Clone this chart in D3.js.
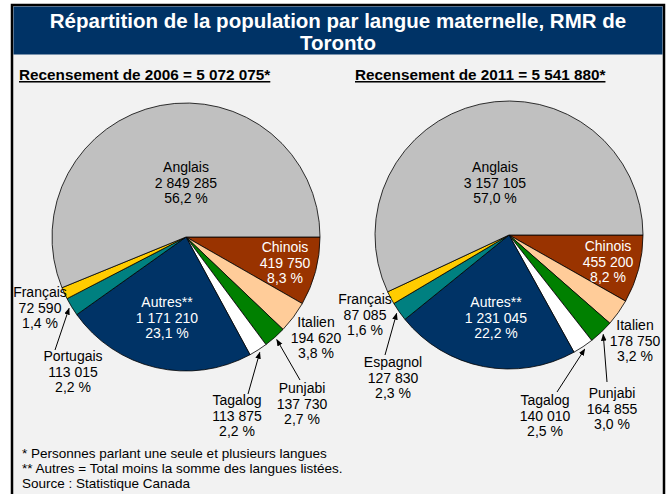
<!DOCTYPE html>
<html>
<head>
<meta charset="utf-8">
<script src="https://cdn.jsdelivr.net/npm/d3@7"></script>
<style>
  body { margin: 0; background: #fff; }
  text { font-family: "Liberation Sans", Arial, sans-serif; }
  .narrow { font-family: "Liberation Sans Narrow", "Arial Narrow", "Liberation Sans", sans-serif; font-weight: bold; }
</style>
</head>
<body>
<script>
// data
var languages2006 = ['Chinois', 'Italien', 'Punjabi', 'Tagalog', 'Autres**', 'Portugais', 'Français', 'Anglais'];
var counts2006 = [419750, 194620, 137730, 113875, 1171210, 113015, 72590, 2849285];
var pct2006 = [8.3, 3.8, 2.7, 2.2, 23.1, 2.2, 1.4, 56.2];
var total2006 = 5072075;

var languages2011 = ['Chinois', 'Italien', 'Punjabi', 'Tagalog', 'Autres**', 'Espagnol', 'Français', 'Anglais'];
var counts2011 = [455200, 178750, 164855, 140010, 1231045, 127830, 87085, 3157105];
var pct2011 = [8.2, 3.2, 3.0, 2.5, 22.2, 2.3, 1.6, 57.0];
var total2011 = 5541880;

var colour = d3.scaleOrdinal()
    .domain(['Chinois', 'Italien', 'Punjabi', 'Tagalog', 'Autres**', 'Portugais', 'Espagnol', 'Français', 'Anglais'])
    .range(['#993300', '#FFCC99', '#008000', '#FFFFFF', '#003366', '#008080', '#008080', '#FFCC00', '#C0C0C0'])
var whiteText = ['Chinois', 'Autres**']

var fr = d3.formatLocale({decimal: ',', thousands: ' ', grouping: [3], currency: ['', ' $']})
var fmtN = fr.format(',d'), fmtP = fr.format('.1f')

var width = 669, height = 494
var radius = 134

// label placement: [dx, dy] of first baseline from pie centre; arrow = start offset from label
var layout2006 = {
    'Chinois': {pos: [99, 15]}, 'Italien': {pos: [130, 90]}, 'Punjabi': {pos: [116, 156], arrow: [-2, -13]},
    'Tagalog': {pos: [51, 168], arrow: [11, -11]}, 'Autres**': {pos: [-19, 70]},
    'Portugais': {pos: [-113, 124], arrow: [-18, -11]}, 'Français': {pos: [-146, 60]}, 'Anglais': {pos: [0, -65]}
}
var layout2011 = {
    'Chinois': {pos: [99, 16]}, 'Italien': {pos: [126, 95]}, 'Punjabi': {pos: [103, 163], arrow: [-5, -16]},
    'Tagalog': {pos: [36, 170], arrow: [12, -13]}, 'Autres**': {pos: [-13, 72]},
    'Espagnol': {pos: [-116, 132], arrow: [-8, -12]}, 'Français': {pos: [-144, 69]}, 'Anglais': {pos: [-14, -63]}
}

var svg = d3.select('body').append('svg').attr('width', width).attr('height', height)

svg.append('defs').append('marker')
    .attr('id', 'head').attr('viewBox', '0 0 10 10').attr('refX', 9).attr('refY', 5)
    .attr('markerWidth', 7).attr('markerHeight', 7).attr('orient', 'auto-start-reverse')
    .attr('markerUnits', 'userSpaceOnUse')
  .append('path').attr('d', 'M0,1 L10,5 L0,9 z').attr('fill', '#000')

// frame + title bar
svg.append('rect').attr('x', 12).attr('y', 5).attr('width', 652).attr('height', 500)
    .attr('fill', '#F2F2F2').attr('stroke', '#000').attr('stroke-width', 2.5)
svg.append('rect').attr('x', 13.5).attr('y', 6.5).attr('width', 649).attr('height', 48).attr('fill', '#003366')

var title = svg.append('text').attr('class', 'narrow').attr('fill', '#fff').attr('font-size', 20.5)
    .attr('text-anchor', 'middle')
title.append('tspan').attr('x', 338).attr('y', 28).text('Répartition de la population par langue maternelle, RMR de')
title.append('tspan').attr('x', 338).attr('y', 50).text('Toronto')

var subtitles = ['Recensement de 2006 = ' + fmtN(total2006) + '*', 'Recensement de 2011 = ' + fmtN(total2011) + '*']
svg.selectAll('.sub').data(subtitles).enter().append('text')
    .attr('class', 'narrow sub').attr('font-size', 15.3)
    .attr('x', (d, i) => i == 0 ? 19 : 355).attr('y', 80)
    .attr('text-decoration', 'underline')
    .text(d => d)

var pie = d3.pie().sort(null).value(d => d.count).startAngle(Math.PI / 2).endAngle(Math.PI / 2 + 2 * Math.PI)
var arc = d3.arc().innerRadius(0).outerRadius(radius)

function drawPie(cx, cy, names, counts, pcts, layout) {
    var data = names.map((n, i) => ({name: n, count: counts[i], pct: pcts[i]}))
    var g = svg.append('g').attr('transform', 'translate(' + cx + ',' + cy + ')')
    var slices = pie(data)
    g.selectAll('path.slice').data(slices).enter().append('path')
        .attr('class', 'slice')
        .attr('d', arc)
        .attr('fill', d => colour(d.data.name))
        .attr('stroke', '#000').attr('stroke-width', 0.8).attr('stroke-linejoin', 'round')

    // arrows for the small outside labels
    slices.filter(d => layout[d.data.name].arrow).forEach(function(d) {
        var L = layout[d.data.name]
        var mid = (d.startAngle + d.endAngle) / 2
        var ex = Math.sin(mid) * (radius + 3), ey = -Math.cos(mid) * (radius + 3)
        g.append('line')
            .attr('x1', L.pos[0] + L.arrow[0]).attr('y1', L.pos[1] + L.arrow[1])
            .attr('x2', ex).attr('y2', ey)
            .attr('stroke', '#000').attr('stroke-width', 1)
            .attr('marker-end', 'url(#head)')
    })

    var labels = g.selectAll('text.lab').data(slices).enter().append('text')
        .attr('class', 'lab')
        .attr('text-anchor', 'middle').attr('font-size', 14)
        .attr('fill', d => whiteText.indexOf(d.data.name) >= 0 ? '#fff' : '#000')
    labels.each(function(d) {
        var p = layout[d.data.name].pos
        var lines = [d.data.name, fmtN(d.data.count), fmtP(d.data.pct) + ' %']
        d3.select(this).selectAll('tspan').data(lines).enter().append('tspan')
            .attr('x', p[0]).attr('y', (l, i) => p[1] + i * 15.5)
            .text(l => l)
    })
}

drawPie(186, 237, languages2006, counts2006, pct2006, layout2006)
drawPie(509, 235, languages2011, counts2011, pct2011, layout2011)

var notes = ['* Personnes parlant une seule et plusieurs langues',
             '** Autres = Total moins la somme des langues listées.',
             'Source : Statistique Canada']
svg.selectAll('.note').data(notes).enter().append('text')
    .attr('class', 'note').attr('font-size', 13.5)
    .attr('x', 22).attr('y', (d, i) => 458 + i * 15)
    .text(d => d)
</script>
</body>
</html>
